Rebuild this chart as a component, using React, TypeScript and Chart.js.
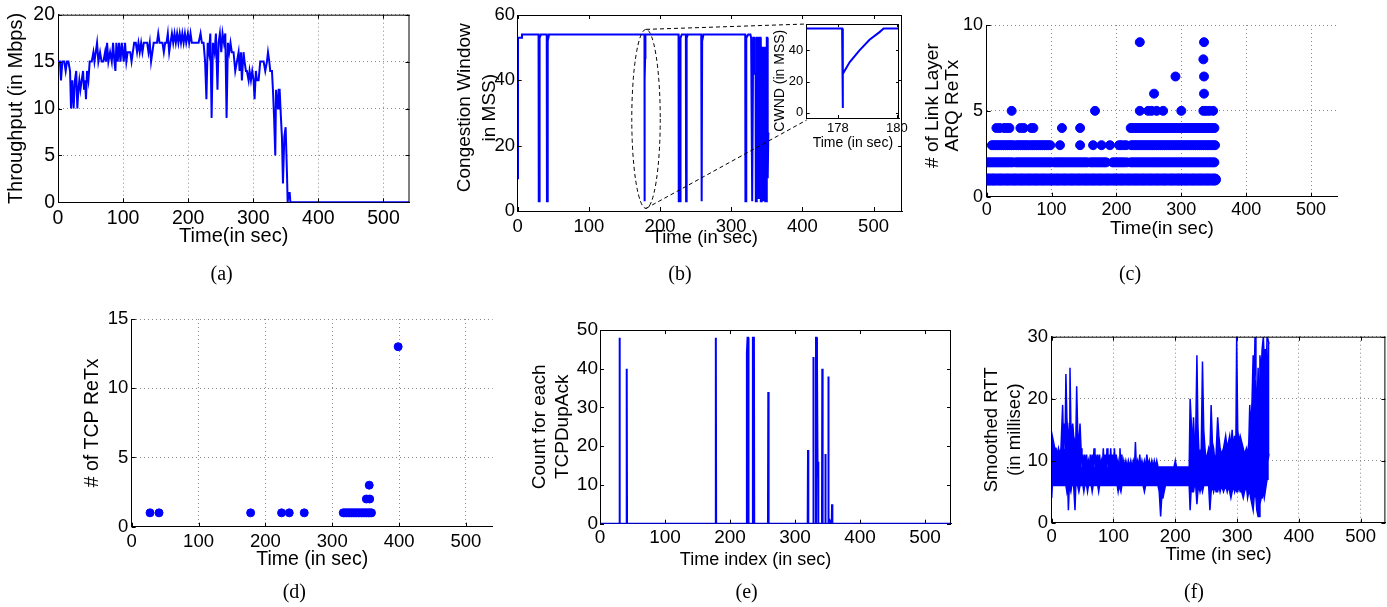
import React, { useEffect, useRef } from "react";
import { Chart, registerables } from "chart.js";

Chart.register(...registerables);

const W = 1387;
const H = 607;
const FONT = "'Liberation Sans', Arial, Helvetica, sans-serif";
const BLUE = "#0000ff";
const GRID = "#8a8a8a";
Chart.defaults.font.family = FONT;

// ---------------- tick labels ----------------
const TIME_TICKS = [0, 100, 200, 300, 400, 500];
const THR_TICKS = [0, 5, 10, 15, 20];
const CWND_TICKS = [0, 20, 40, 60];
const INSET_X_TICKS = [178, 180];
const INSET_Y_TICKS = [0, 20, 40];
const ARQ_TICKS = [0, 5, 10];
const TCP_TICKS = [0, 5, 10, 15];
const DUP_TICKS = [0, 10, 20, 30, 40, 50];
const RTT_TICKS = [0, 10, 20, 30];

// ---------------- (a) throughput ----------------
const THR_T = [0, 3, 4.6, 6.7, 9.7, 11.8, 13.8, 16, 18.5, 20,
  22, 24, 26, 28, 29.7, 31.3, 32.8, 34.4, 36.4, 38.5,
  40, 41.5, 43, 44.6, 46.7, 48.7, 51.8, 54.4, 56, 58,
  60, 62, 64.6, 67, 69.7, 72.3, 73.8, 75.4, 77.4, 80,
  82.6, 84.6, 86.7, 88.2, 89.7, 91.8, 93.8, 96, 98, 99.5,
  101, 103, 105, 107, 109, 111, 113, 115, 117, 119.5,
  121.5, 123.6, 125.6, 127.7, 129.7, 131.8, 133.8, 137, 139, 141,
  143, 145, 147, 149, 152, 154, 156, 158.5, 160.5, 162.6,
  164.6, 166.7, 168.7, 170.8, 172.8, 175, 177, 179, 181, 183,
  185, 187, 189, 191, 193, 195, 197, 199.5, 201.5, 203.6,
  205.6, 211, 216, 219, 221, 223.6, 226, 228, 230, 232,
  234, 236, 238, 240.5, 242.6, 245, 246.7, 248.7, 250.8, 252.8,
  255, 257, 259, 261, 263, 265, 267, 269.7, 272.3, 274.9,
  277.4, 279, 281, 282.5, 285, 286.6, 288.7, 290.2, 292.8, 294.3,
  296.4, 298.4, 300.5, 302, 304, 305.6, 308.2, 310.7, 313.3, 315.9,
  318.4, 321, 322.6, 324.6, 326.1, 328.7, 330.2, 332, 333.8, 335,
  336.4, 338, 339, 340.5, 342.5, 344, 345.6, 347.7, 349.7, 351.8,
  352.8, 354.3, 356, 357, 540];
const THR_V = [15, 15, 13, 15, 15, 14, 15, 15, 14, 10,
  13, 10, 13, 14, 10, 12, 13, 12, 13, 14,
  12, 13, 11, 14, 13, 15, 15, 16, 15, 16,
  17, 15, 16, 15, 15, 16, 15, 17, 15, 16,
  15, 17, 15, 14, 17, 15, 17, 15, 17, 16,
  15, 17, 15, 16, 16, 16, 15, 16, 17, 17,
  16, 17, 16, 17, 16, 17, 17, 17, 16, 17,
  15, 16, 17, 17, 17, 18, 17, 17, 17, 16,
  17, 17, 18, 16, 17, 18, 17, 18, 17, 18,
  17, 18, 17, 18, 17, 18, 17, 18, 17, 18,
  17, 17, 17, 18, 17, 17, 15, 11, 17, 16,
  18, 9, 17, 16, 18, 12, 17, 18, 16, 18,
  17, 18, 9, 17, 16, 17, 16, 16, 14, 15,
  16, 14, 16, 13, 16, 15, 14, 14, 13, 14,
  13, 14, 13, 11, 14, 13, 13, 15, 15, 15,
  14, 15, 16, 15, 14, 14, 12, 9, 5, 12,
  12, 10, 12, 12, 9, 7, 2, 7, 8, 3,
  0, 1, 1, 0, 0];

// ---------------- (b) congestion window ----------------
const CWND_T = [0, 0.4, 5.5, 6,
  29.3, 29.6, 30.4, 30.8, 32.5,
  40.8, 41.1, 41.8, 42.2, 44,
  178.14, 178.16, 178.17, 178.4, 178.73, 179.07, 179.41, 179.55,
  226, 226.3, 226.9, 227.3, 227.8, 228.1, 228.6, 229, 230.5,
  236.3, 236.6, 237.2, 237.6, 239,
  257.9, 258.2, 258.8, 259.2, 261,
  319.7, 320, 320.8, 321.2, 324, 327, 328, 329.2,
  329.5, 330.4, 330.9, 332.5, 333, 334.3, 334.6, 335.4, 335.9, 336.8,
  337.2, 339.3, 339.7, 341.2, 341.6, 342.4, 342.9, 344.9, 345.3, 345.9,
  346.3, 347.5, 347.9, 349.5, 350, 350.6, 351, 351.6, 352.2];
const CWND_V = [10, 53, 53, 54,
  54, 3, 3, 53, 54,
  54, 3, 3, 52, 54,
  54, 3, 25, 32.5, 40, 46.8, 51.7, 54,
  54, 3, 3, 52, 52, 3, 3, 53, 54,
  54, 3, 3, 53, 54,
  54, 3, 3, 52, 54,
  54, 3, 3, 53, 54, 54, 53, 53,
  3, 3, 53, 53, 42, 42, 3, 3, 53, 53,
  4, 4, 53, 53, 3, 3, 50, 50, 3, 3,
  50, 50, 3, 3, 53, 53, 10, 10, 24];
// zoomed region marked by the dashed ellipse (data units)
const ZOOM_T = 180.3;
const ZOOM_DT = 20;
const ZOOM_V = 28.2;
const ZOOM_DV = 27.4;

// ---------------- (c) link layer ARQ retransmissions ----------------
const ARQ_L1 = [1, 3, 6, 9, 11, 14, 17, 20, 22, 25, 28, 31, 33, 36, 39, 42, 44, 47, 50, 53, 55, 58, 61, 64, 66, 69, 72, 75, 77, 80,
  83, 86, 88, 91, 94, 97, 99, 102, 105, 108, 110, 113, 116, 119, 121, 124, 127, 130, 132, 135, 138, 141, 143, 146, 149, 152, 154, 157, 160, 163,
  165, 168, 171, 174, 176, 179, 182, 185, 187, 190, 193, 196, 198, 201, 204, 207, 209, 212, 215, 218, 220, 223, 226, 229, 231, 234, 237, 240, 242, 245,
  248, 251, 253, 256, 259, 262, 264, 267, 270, 273, 275, 278, 281, 284, 286, 289, 292, 295, 297, 300, 303, 306, 308, 311, 314, 317, 319, 322, 325, 328,
  330, 333, 336, 339, 341, 344, 347, 350, 352];
const ARQ_L2 = [1, 4, 7, 10, 13, 16, 19, 22, 25, 28, 31, 34, 37, 40,
  45, 48, 51, 54, 57, 60, 63, 66, 69, 72, 75, 78, 81, 84, 87, 90, 93, 96, 99,
  104, 107, 110, 113, 116, 119, 122, 125, 128, 131, 134, 137, 140, 143, 146, 149, 152, 155,
  160, 163, 166, 169, 172, 175, 178, 181, 184,
  194, 197, 200, 203, 206, 209, 212, 216,
  222, 225, 228, 231, 234, 237, 240, 243, 246, 249, 252, 255, 258, 261, 264, 267, 270, 273, 276, 279, 282, 285,
  288, 291, 294, 297, 300, 303, 306, 309, 312, 315, 318, 321, 324, 327, 330, 333, 336, 339, 342, 345, 348, 351];
const ARQ_L3 = [8, 11, 14, 17, 20, 23, 26, 29, 32, 35, 38, 41,
  46, 49, 52, 55, 58, 61, 64, 68, 71, 74, 77, 80, 83, 86, 89, 92, 95, 98,
  113, 144, 164, 177, 190, 204, 207, 211, 215,
  223, 226, 229, 232, 235, 238, 241, 244, 247, 250, 253, 256, 259, 262, 265, 268, 271, 274, 277, 280, 283, 286,
  289, 292, 295, 298, 301, 304, 307, 310, 313, 316, 319, 322, 325, 328, 331, 334, 337, 340, 343, 346, 349, 352];
const ARQ_L4 = [15, 20, 27, 31, 35, 52, 57, 69, 72, 116, 144,
  222, 225, 228, 231, 234, 237, 240, 243, 246, 249, 252, 255, 258, 261, 264, 267, 270, 273, 276, 279, 282, 285,
  288, 291, 294, 297, 300, 303, 306, 309, 312, 315, 318, 321, 324, 327, 330, 333, 336, 339, 342, 345, 348, 351];
const ARQ_L5 = [38.5, 167, 236, 249, 254, 262, 272, 300, 334, 338, 343, 349];
const ARQ_L6 = [258, 335];
const ARQ_L7 = [291, 335];
const ARQ_L8 = [334];
const ARQ_L9 = [236, 335];
const ARQ_LEVELS = [ARQ_L1, ARQ_L2, ARQ_L3, ARQ_L4, ARQ_L5, ARQ_L6, ARQ_L7, ARQ_L8, ARQ_L9];

// ---------------- (d) TCP retransmissions ----------------
const TCP_T = [27.4, 40.9, 177.9, 224.2, 235.7, 258.1,
  316.4, 319, 321.4, 324, 326.4, 329, 331.4, 334, 336.3, 339, 341.3, 344, 346.3, 349, 351.3, 354, 356.3, 358.7,
  351, 356, 355.3, 398.6];
const TCP_N = [1, 1, 1, 1, 1, 1,
  1, 1, 1, 1, 1, 1, 1, 1, 1, 1, 1, 1, 1, 1, 1, 1, 1, 1,
  2, 2, 3, 13];

// ---------------- (e) duplicate ACK counts ----------------
const DUP_T = [0, 29.5, 30, 30.6, 40.6, 41.1, 41.6, 177.7, 178.2, 178.7,
  225.5, 226, 227, 228, 228.5, 234.8, 235.2, 236.8, 237.3, 258.4, 258.9, 259.4,
  319.5, 320, 320.5, 327.7, 328.2, 328.7, 331.8, 332.3, 333.3, 333.8, 334.8, 335.4, 335.9,
  341.5, 342, 342.5, 346.2, 346.7, 347.2, 350.8, 351.3, 351.8, 353, 356.5, 357, 357.5, 540];
const DUP_N = [0, 0, 48, 0, 0, 40, 0, 0, 48, 0,
  0, 44, 48, 48, 0, 0, 48, 48, 0, 0, 34, 0,
  0, 19, 0, 0, 43, 0, 0, 48, 48, 43, 12, 16, 0,
  0, 40, 0, 0, 18, 0, 0, 38, 0, 1, 0, 5, 0, 0];

// ---------------- (f) smoothed RTT (upper / lower envelope of the trace) ----------------
const RTT_T = [0, 1, 3, 5, 7, 9, 11, 13, 15, 17.7,
  19, 20, 21.5, 23, 24.5, 26, 27, 28.5, 29.6, 31,
  32.5, 34, 35.5, 37.7, 39, 40.4, 42, 44, 45.8,
  47.5, 49, 50.5, 52, 53.5, 55, 56.5, 58, 59.5, 61,
  62.5, 64, 65.5, 67, 68.5, 70, 71.5, 73, 74.5, 76,
  77.5, 79, 80.5, 82, 83.5, 85, 86.5, 88, 89.5, 91,
  92.5, 94, 95.5, 97, 98.5, 100, 101.5, 103, 104.5, 106,
  107.5, 109, 110.5, 112, 113.5, 115, 116.5, 118, 120, 122,
  124, 126, 128, 130, 132, 134, 135.5, 137, 139, 141,
  142.5, 144, 146, 148, 150, 152, 154, 156, 158, 160,
  162, 164, 166, 168, 170, 172, 174, 176.3, 178, 180,
  182, 184, 186, 189, 192, 195, 198, 200, 202, 205,
  208, 211, 214, 217, 220, 222.5,
  224, 226, 228, 229.5, 231, 233, 235, 236.5, 238, 240,
  242, 244, 246, 248, 250, 252, 254, 256, 258, 260,
  262, 264, 266, 268.6, 270.5, 272.5, 275, 278, 281.5, 284,
  286, 288, 290, 292, 294, 296, 298, 299.3, 301, 303,
  305, 307.5, 310, 312, 315, 317, 319, 320.5, 322, 324,
  326, 327.5, 329, 330.5, 332, 334, 335.5, 337, 339, 340.5,
  342.5, 344, 345.5, 347, 348.5, 350, 351.5, 352.5];
const RTT_HI = [11, 14, 13, 12, 12, 11, 12, 11, 12, 19,
  13, 16, 12, 24, 17, 14, 13, 16, 25, 16,
  14, 16, 14, 13, 13, 22, 15, 12, 16,
  12, 9, 11, 9, 11, 9, 11, 9, 10, 9,
  11, 9, 11, 9, 12, 9, 11, 9, 11, 9,
  11, 9, 10, 9, 12, 9, 11, 9, 12, 9,
  11, 9, 12, 9, 11, 9, 12, 9, 11, 9,
  10, 9, 12, 9, 11, 9, 10, 9, 10, 9,
  10, 9, 10, 9, 10, 9, 13, 9, 10, 9,
  11, 9, 10, 9, 10, 9, 11, 9, 10, 9,
  10, 9, 10, 9, 10, 9, 9, 9, 9, 9,
  9, 9, 9, 9, 9, 9, 9, 10, 9, 9,
  9, 9, 9, 9, 9, 9,
  20, 16, 12, 17, 13, 14, 27, 16, 12, 11,
  12, 26, 15, 12, 10, 11, 12, 11, 19, 13,
  12, 10, 11, 17, 14, 12, 11, 12, 14, 12,
  13, 14, 12, 15, 12, 14, 12, 30, 15, 13,
  14, 13, 12, 11, 12, 11, 13, 19, 15, 19,
  27, 22, 30, 23, 16, 25, 19, 27, 24, 28,
  30, 26, 28, 24, 30, 30, 29, 29];
const RTT_LO = [4, 6, 6, 6, 6, 6, 6, 6, 6, 6,
  6, 6, 6, 6, 5, 6, 2, 6, 6, 5,
  6, 6, 6, 2, 6, 6, 6, 5, 6,
  6, 6, 6, 5, 6, 6, 6, 5, 6, 6,
  6, 6, 5, 6, 6, 6, 6, 6, 6, 5,
  6, 6, 6, 6, 6, 6, 6, 6, 6, 6,
  6, 6, 6, 6, 6, 6, 6, 6, 6, 6,
  5, 6, 6, 5, 6, 6, 6, 6, 6, 6,
  6, 6, 6, 6, 6, 6, 6, 6, 6, 6,
  6, 6, 6, 6, 5, 6, 6, 6, 6, 6,
  6, 6, 6, 6, 6, 6, 5, 1, 4, 4,
  5, 6, 6, 6, 6, 6, 6, 6, 6, 6,
  6, 6, 6, 6, 6, 6,
  2, 6, 5, 5, 6, 6, 3, 5, 6, 5,
  6, 5, 6, 6, 6, 6, 6, 2, 5, 6,
  5, 6, 5, 5, 6, 5, 6, 5, 6, 5,
  6, 5, 4, 5, 6, 5, 6, 5, 5, 6,
  5, 5, 4, 5, 6, 4, 5, 5, 4, 3,
  2, 4, 5, 4, 2, 1, 1, 3, 4, 4,
  5, 4, 5, 6, 7, 10, 11, 11];

// ---------------- layout ----------------
const INSET_RECT = [806.7, 24, 899, 118];
const CAPTIONS: [string, number, number][] = [
  ["(a)", 221.7, 275], ["(b)", 680, 275], ["(c)", 1130, 275],
  ["(d)", 294.3, 593], ["(e)", 746.7, 593], ["(f)", 1194, 593],
];

const pts = (xs: number[], ys: number[]) => xs.map((x, i) => ({ x, y: ys[i] }));
const lineDs = (xs: number[], ys: number[], extra: any = {}) => ({
  data: pts(xs, ys), borderColor: BLUE, backgroundColor: BLUE, borderWidth: 2,
  pointRadius: 0, fill: false, tension: 0, ...extra,
});
const dotDs = (xs: number[], ys: number[], r: number) => ({
  data: pts(xs, ys), showLine: false, pointRadius: r, pointBackgroundColor: BLUE,
  pointBorderColor: BLUE, pointBorderWidth: 1, borderColor: BLUE,
});

function build(canvas: HTMLCanvasElement, s: any): Chart {
  const [l, t, r, b] = s.rect;
  const yLH = s.yTitleSize * s.yTitleLH;
  const padLeft = s.yTitleX - yLH / 2;
  const yW = l - padLeft;
  const xLH = s.xTitleSize * 1.2;
  const scaleBottom = s.xTitleY + xLH / 2;
  const xH = scaleBottom - b;

  const frame = {
    id: "frame",
    beforeDraw(c: any) {
      if (!s.white) return;
      const a = c.chartArea;
      c.ctx.save();
      c.ctx.fillStyle = "#ffffff";
      c.ctx.fillRect(a.left, a.top, a.right - a.left, a.bottom - a.top);
      c.ctx.restore();
    },
    afterDatasetsDraw(c: any) {
      const { ctx, chartArea: a, scales } = c;
      const tl = s.tickLen;
      ctx.save();
      ctx.strokeStyle = "#000";
      ctx.lineWidth = 1;
      ctx.setLineDash([]);
      ctx.beginPath();
      if (s.box) {
        ctx.moveTo(a.left, a.top + 0.5);
        ctx.lineTo(a.right, a.top + 0.5);
        ctx.moveTo(a.right - 0.5, a.top);
        ctx.lineTo(a.right - 0.5, a.bottom);
      }
      for (const v of s.x[2]) {
        const px = Math.round(scales.x.getPixelForValue(v)) + 0.5;
        ctx.moveTo(px, a.bottom);
        ctx.lineTo(px, a.bottom - tl);
        if (s.box) { ctx.moveTo(px, a.top); ctx.lineTo(px, a.top + tl); }
      }
      for (const v of s.y[2]) {
        const py = Math.round(scales.y.getPixelForValue(v)) + 0.5;
        ctx.moveTo(a.left, py);
        ctx.lineTo(a.left + tl, py);
        if (s.box) { ctx.moveTo(a.right, py); ctx.lineTo(a.right - tl, py); }
      }
      ctx.stroke();
      ctx.restore();
    },
  };

  const axis = (which: "x" | "y") => {
    const isX = which === "x";
    const [mn, mx, tk] = isX ? s.x : s.y;
    return {
      type: "linear",
      position: isX ? "bottom" : "left",
      min: mn,
      max: mx,
      afterBuildTicks: (sc: any) => { sc.ticks = tk.map((v: number) => ({ value: v })); },
      afterFit: (sc: any) => { if (isX) sc.height = xH; else sc.width = yW; },
      ticks: {
        color: "#000",
        font: { family: FONT, size: s.tickSize, lineHeight: 1.2 },
        padding: isX ? s.xPad : s.yPad,
        maxRotation: 0,
        autoSkip: false,
      },
      grid: { display: s.grid, color: GRID, lineWidth: 1, drawTicks: false },
      border: { display: true, color: "#000", width: 1, dash: [1, 3] },
      title: {
        display: true,
        text: isX ? s.xTitle : s.yTitle,
        color: "#000",
        padding: 0,
        font: isX
          ? { family: FONT, size: s.xTitleSize, lineHeight: 1.2 }
          : { family: FONT, size: s.yTitleSize, lineHeight: s.yTitleLH },
      },
    };
  };

  return new Chart(canvas, {
    type: "line",
    data: { datasets: s.datasets },
    options: {
      responsive: false,
      animation: false,
      devicePixelRatio: 1,
      events: [],
      layout: { padding: { left: padLeft, top: t, right: W - r, bottom: H - scaleBottom } },
      plugins: { legend: { display: false }, tooltip: { enabled: false }, title: { display: false } },
      scales: { x: axis("x"), y: axis("y") },
    } as any,
    plugins: [frame, ...(s.plugins || [])],
  } as any);
}

const zoomMark = {
  id: "zoomMark",
  afterDatasetsDraw(c: any) {
    const { ctx, scales } = c;
    const x = scales.x, y = scales.y;
    const cx = x.getPixelForValue(ZOOM_T);
    const cy = y.getPixelForValue(ZOOM_V);
    const rx = Math.abs(x.getPixelForValue(ZOOM_T + ZOOM_DT) - cx);
    const ry = Math.abs(y.getPixelForValue(ZOOM_V + ZOOM_DV) - cy);
    const [il, it, , ib] = INSET_RECT;
    ctx.save();
    ctx.strokeStyle = "#000";
    ctx.lineWidth = 1;
    ctx.setLineDash([4, 3]);
    ctx.beginPath();
    ctx.ellipse(cx, cy, rx, ry, 0, 0, Math.PI * 2);
    ctx.stroke();
    ctx.beginPath();
    ctx.moveTo(cx, cy - ry);
    ctx.lineTo(il, it);
    ctx.moveTo(cx, cy + ry);
    ctx.lineTo(il, ib + 2);
    ctx.stroke();
    ctx.restore();
  },
};

const SPECS: any[] = [
  {
    rect: [58, 12, 409.5, 202.3], x: [0, 540, TIME_TICKS], y: [0, 20, THR_TICKS],
    xTitle: "Time(in sec)", xTitleSize: 20, xTitleY: 236.7,
    yTitle: "Throughput (in Mbps)", yTitleSize: 20, yTitleLH: 1.2, yTitleX: 16.7,
    tickSize: 19.5, xPad: 4.3, yPad: 3, grid: true, box: true, tickLen: 4,
    datasets: [lineDs(THR_T, THR_V)],
  },
  {
    rect: [517.7, 15, 902, 211], x: [0, 540, TIME_TICKS], y: [0, 60, CWND_TICKS],
    xTitle: "Time (in sec)  ", xTitleSize: 18.5, xTitleY: 238.3,
    yTitle: ["  Congestion Window", "  in MSS)"], yTitleSize: 19, yTitleLH: 1.316, yTitleX: 465,
    tickSize: 18.5, xPad: 4.6, yPad: 2.7, grid: false, box: true, tickLen: 4,
    datasets: [lineDs(CWND_T, CWND_V)], plugins: [zoomMark],
  },
  {
    rect: [INSET_RECT[0], INSET_RECT[1], INSET_RECT[2], INSET_RECT[3]],
    x: [176.94, 180.07, INSET_X_TICKS], y: [-3.4, 56.9, INSET_Y_TICKS],
    xTitle: "Time (in sec)", xTitleSize: 14, xTitleY: 142.7,
    yTitle: "CWND (in MSS)     ", yTitleSize: 14, yTitleLH: 1.2, yTitleX: 780,
    tickSize: 13, xPad: 2.5, yPad: 3.4, grid: false, box: true, white: true, tickLen: 3,
    datasets: [lineDs(CWND_T, CWND_V)],
  },
  {
    rect: [986.7, 25, 1337, 196.7], x: [0, 540, TIME_TICKS], y: [0, 10, ARQ_TICKS],
    xTitle: "Time(in sec)", xTitleSize: 19, xTitleY: 228.3,
    yTitle: ["  # of Link Layer", "  ARQ ReTx"], yTitleSize: 19, yTitleLH: 20 / 19, yTitleX: 933,
    tickSize: 18, xPad: 2.5, yPad: 3.7, grid: true, box: false, tickLen: 4,
    datasets: ARQ_LEVELS.map((ts, i) => dotDs(ts, ts.map(() => i + 1), i === 0 ? 5.5 : 4.5)),
  },
  {
    rect: [131.7, 319, 492.7, 526.7], x: [0, 540, TIME_TICKS], y: [0, 15, TCP_TICKS],
    xTitle: "Time (in sec)", xTitleSize: 19.5, xTitleY: 560,
    yTitle: "# of TCP ReTx", yTitleSize: 19.5, yTitleLH: 1.2, yTitleX: 93,
    tickSize: 18.5, xPad: 3.9, yPad: 3.4, grid: true, box: false, tickLen: 4,
    datasets: [dotDs(TCP_T, TCP_N, 4)],
  },
  {
    rect: [600, 330, 951, 523.7], x: [0, 540, TIME_TICKS], y: [0, 50, DUP_TICKS],
    xTitle: "Time index (in sec)        ", xTitleSize: 18, xTitleY: 560,
    yTitle: ["Count for each", "TCPDupAck"], yTitleSize: 19, yTitleLH: 23 / 19, yTitleX: 540,
    tickSize: 19, xPad: 2.2, yPad: 2, grid: false, box: true, tickLen: 4,
    datasets: [lineDs(DUP_T, DUP_N)],
  },
  {
    rect: [1051.7, 336.7, 1385.4, 522.7], x: [0, 540, TIME_TICKS], y: [0, 30, RTT_TICKS],
    xTitle: "Time (in sec)", xTitleSize: 18.5, xTitleY: 555,
    yTitle: ["Smoothed RTT", "(in millisec)"], yTitleSize: 18.5, yTitleLH: 1.26, yTitleX: 991.7,
    tickSize: 18.5, xPad: 3.5, yPad: 3.7, grid: true, box: true, tickLen: 4,
    datasets: [
      lineDs(RTT_T, RTT_HI, { borderWidth: 1.5 }),
      lineDs(RTT_T, RTT_LO, { borderWidth: 1.5, fill: "-1" }),
    ],
  },
];

function ChartLayer({ spec }: { spec: any }) {
  const ref = useRef<HTMLCanvasElement>(null);
  useEffect(() => {
    const chart = build(ref.current as HTMLCanvasElement, spec);
    return () => chart.destroy();
  }, [spec]);
  return (
    <canvas
      ref={ref}
      width={W}
      height={H}
      style={{ position: "absolute", left: 0, top: 0, width: W, height: H }}
    />
  );
}

export default function App() {
  return (
    <div style={{ position: "absolute", left: 0, top: 0, width: W, height: H, background: "#fff", overflow: "hidden" }}>
      {SPECS.map((s, i) => (
        <ChartLayer key={i} spec={s} />
      ))}
      {CAPTIONS.map(([txt, cx, cy]) => (
        <div
          key={txt}
          style={{
            position: "absolute", left: cx - 50, top: cy - 12, width: 100, textAlign: "center",
            fontFamily: "'Liberation Serif', 'Times New Roman', serif", fontSize: 20, lineHeight: "20px", color: "#000",
          }}
        >
          {txt}
        </div>
      ))}
    </div>
  );
}
